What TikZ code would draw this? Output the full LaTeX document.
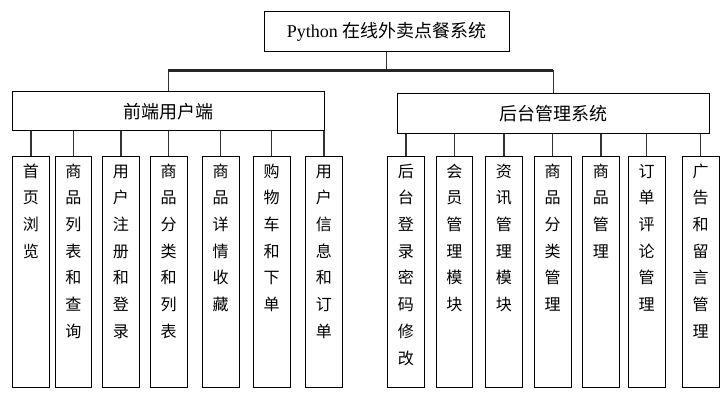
\documentclass[tikz,border=0pt]{standalone}
\usepackage{fontspec}
\setmainfont{Liberation Serif}
\newfontfamily\cjk{Noto Sans CJK SC}
\usetikzlibrary{calc}

\tikzset{
  box/.style={draw, line width=0.6pt, inner sep=0pt, font=\cjk\fontsize{12.8}{15}\selectfont},
  leafbox/.style={draw, line width=0.6pt, anchor=north, inner sep=0pt,
    minimum width=0.92cm, text width=0.92cm, align=center,
    text height=15pt, text depth=149.3pt, font=\cjk\fontsize{11.4}{19}\selectfont},
  link/.style={line width=1pt, black!80},
  bar/.style={line width=1.7pt, black!85},
}

\begin{document}
\begin{tikzpicture}[x=0.025cm, y=-0.025cm]
		\useasboundingbox (0, 0) rectangle (727, 402);
		
		\node[box, minimum width=6.125cm, minimum height=1cm] (sys) at (386.7, 31.7) {\rmfamily Python \cjk 在线外卖点餐系统};
		\node[box, minimum width=7.8cm, minimum height=0.98cm] (front) at (168.3, 111.3) {前端用户端};
		\node[box, minimum width=7.8cm, minimum height=1cm] (back) at (553.3, 113.3) {后台管理系统};
		
		\coordinate (split) at ($(sys.south) + (0, 18.3)$);
		\draw[link] (sys.south) -- (split);
		\draw[link] (front.north) -- (front.north |- split);
		\draw[link] (back.north) -- (back.north |- split);
		\draw[bar] (front.north |- split) -- (back.north |- split);
		
		\node[leafbox] (f1) at (31, 155.5) {首\\页\\浏\\览};
		\node[leafbox] (f2) at (73.5, 155.5) {商\\品\\列\\表\\和\\查\\询};
		\node[leafbox] (f3) at (120.8, 155.5) {用\\户\\注\\册\\和\\登\\录};
		\node[leafbox] (f4) at (168.7, 155.5) {商\\品\\分\\类\\和\\列\\表};
		\node[leafbox] (f5) at (220.7, 155.5) {商\\品\\详\\情\\收\\藏};
		\node[leafbox] (f6) at (271.7, 155.5) {购\\物\\车\\和\\下\\单};
		\node[leafbox] (f7) at (323.8, 155.5) {用\\户\\信\\息\\和\\订\\单};
		
		\node[leafbox] (b1) at (406, 155.5) {后\\台\\登\\录\\密\\码\\修\\改};
		\node[leafbox] (b2) at (454.5, 155.5) {会\\员\\管\\理\\模\\块};
		\node[leafbox] (b3) at (503.8, 155.5) {资\\讯\\管\\理\\模\\块};
		\node[leafbox] (b4) at (552.7, 155.5) {商\\品\\分\\类\\管\\理};
		\node[leafbox] (b5) at (600.8, 155.5) {商\\品\\管\\理};
		\node[leafbox] (b6) at (646.7, 155.5) {订\\单\\评\\论\\管\\理};
		\node[leafbox] (b7) at (700.7, 155.5) {广\\告\\和\\留\\言\\管\\理};
		
		\draw[link] (f1.north) -- (f1.north |- front.south);
		\draw[link] (f2.north) -- (f2.north |- front.south);
		\draw[link] (f3.north) -- (f3.north |- front.south);
		\draw[link] (f4.north) -- (f4.north |- front.south);
		\draw[link] (f5.north) -- (f5.north |- front.south);
		\draw[link] (f6.north) -- (f6.north |- front.south);
		\draw[link] (f7.north) -- (f7.north |- front.south);
		
		\draw[link] (b1.north) -- (b1.north |- back.south);
		\draw[link] (b2.north) -- (b2.north |- back.south);
		\draw[link] (b3.north) -- (b3.north |- back.south);
		\draw[link] (b4.north) -- (b4.north |- back.south);
		\draw[link] (b5.north) -- (b5.north |- back.south);
		\draw[link] (b6.north) -- (b6.north |- back.south);
		\draw[link] (b7.north) -- (b7.north |- back.south);
	\end{tikzpicture}
\end{document}
